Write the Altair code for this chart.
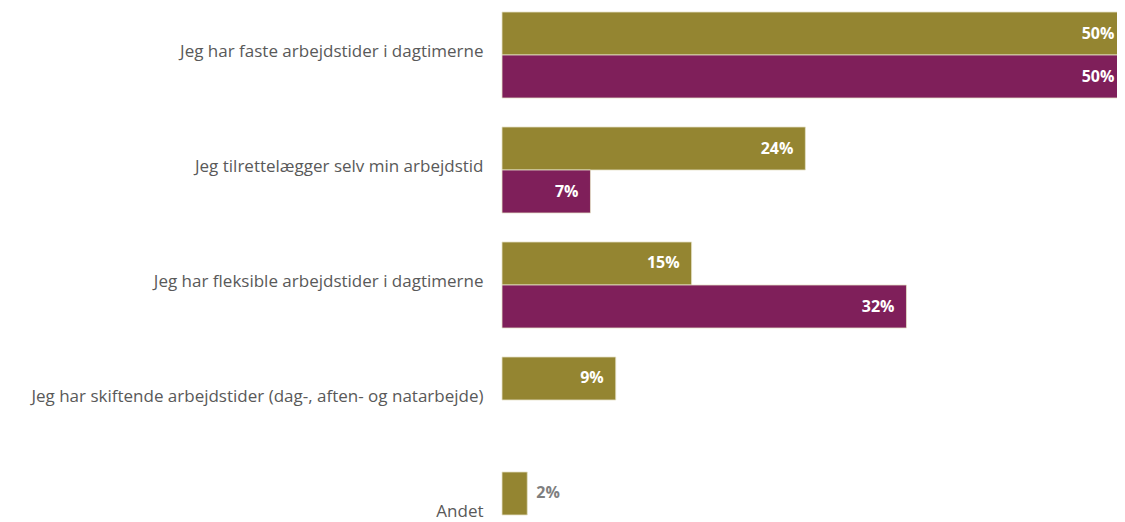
import altair as alt
import pandas as pd

categories = [
    "Jeg har faste arbejdstider i dagtimerne",
    "Jeg tilrettelægger selv min arbejdstid",
    "Jeg har fleksible arbejdstider i dagtimerne",
    "Jeg har skiftende arbejdstider (dag-, aften- og natarbejde)",
    "Andet",
]
series = ["A", "B"]
values_a = [50, 24, 15, 9, 2]
values_b = [50, 7, 32, None, None]
colors = ["#948531", "#7F1F5A"]

rows = []
for c, a, b in zip(categories, values_a, values_b):
    if a is not None:
        rows.append({"cat": c, "series": "A", "value": a, "label": f"{a}%"})
    if b is not None:
        rows.append({"cat": c, "series": "B", "value": b, "label": f"{b}%"})
df = pd.DataFrame(rows)

y_enc = alt.Y("cat:N", sort=categories, title=None,
              scale=alt.Scale(range=[0, 546], paddingInner=0.252, paddingOuter=0),
              axis=alt.Axis(domain=False, ticks=False, labelPadding=19,
                            labelFont="Open Sans", labelFontSize=17,
                            labelColor="#595959", labelLimit=600, labelOffset=-3))
yoff = alt.YOffset("series:N", sort=series, scale=alt.Scale(domain=series, paddingInner=0, paddingOuter=0))
x_scale = alt.Scale(domain=[0, 50], range=[0, 632], nice=False)
x_enc = alt.X("value:Q", title=None, scale=x_scale, axis=None)

base = alt.Chart(df).encode(y=y_enc, yOffset=yoff)

bars = base.mark_bar(stroke="#e6e2c8", strokeWidth=0.8).encode(
    x=x_enc,
    color=alt.Color("series:N", sort=series,
                    scale=alt.Scale(domain=series, range=colors), legend=None)
)

# label anchor kept inside the visible page for bars running off the edge
inside = base.transform_filter("datum.value >= 5").transform_calculate(
    lx="min(datum.value, 49.4)"
).mark_text(
    align="right", baseline="middle", dx=-12, font="Open Sans",
    fontSize=16, fontWeight="bold", color="white"
).encode(x=alt.X("lx:Q", scale=x_scale, axis=None), text="label:N")

outside = base.transform_filter("datum.value < 5").mark_text(
    align="left", baseline="middle", dx=9, font="Open Sans",
    fontSize=16, fontWeight="bold", color="#7f7f7f"
).encode(x=x_enc, text="label:N")

chart = alt.layer(bars, inside, outside).properties(
    width=615, height=510,
    autosize=alt.AutoSizeParams(type="none"),
    padding={"left": 494, "top": 4, "right": 0, "bottom": 0},
).configure_view(stroke=None)

chart.save("out.html", embed_options={"renderer": "svg", "actions": False})
